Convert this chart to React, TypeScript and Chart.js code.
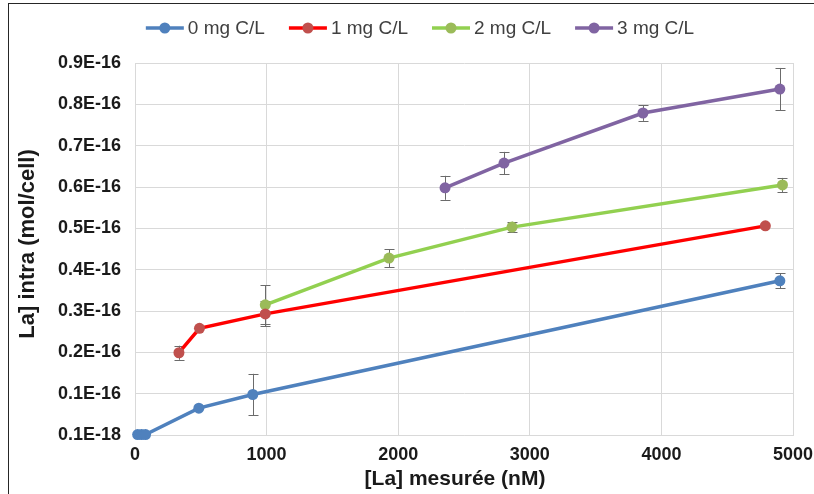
import React, { useEffect, useRef } from "react";
import { Chart, registerables } from "chart.js";

Chart.register(...registerables);

// ---- data (y values in units of 1E-16 mol/cell) ----
const seriesNames = ["0 mg C/L", "1 mg C/L", "2 mg C/L", "3 mg C/L"];

const x0 = [20, 50, 80, 485, 895, 4900];
const y0 = [0.001, 0.001, 0.001, 0.065, 0.098, 0.373];
const e0 = [0, 0, 0, 0, 0.05, 0.018];

const x1 = [334, 490, 990, 4790];
const y1 = [0.199, 0.258, 0.293, 0.506];
const e1 = [0.017, 0, 0.03, 0];

const x2 = [990, 1930, 2865, 4920];
const y2 = [0.315, 0.428, 0.503, 0.605];
const e2 = [0.047, 0.022, 0.013, 0.017];

const x3 = [2356, 2804, 3860, 4900];
const y3 = [0.598, 0.658, 0.779, 0.837];
const e3 = [0.029, 0.027, 0.019, 0.051];

const xTickValues = [0, 1000, 2000, 3000, 4000, 5000];
const xTickLabels = ["0", "1000", "2000", "3000", "4000", "5000"];
const yTickValues = [0, 0.1, 0.2, 0.3, 0.4, 0.5, 0.6, 0.7, 0.8, 0.9];
const yTickLabels = ["0.1E-18", "0.1E-16", "0.2E-16", "0.3E-16", "0.4E-16", "0.5E-16", "0.6E-16", "0.7E-16", "0.8E-16", "0.9E-16"];

const xTitle = "[La] mesurée (nM)";
const yTitle = "La] intra (mol/cell)";

const lineColors = ["#4F81BD", "#FF0000", "#92D050", "#8064A2"];
const markerColors = ["#4F81BD", "#C0504D", "#9BBB59", "#8064A2"];

const allX = [x0, x1, x2, x3];
const allY = [y0, y1, y2, y3];
const allE = [e0, e1, e2, e3];

const FONT = "'Liberation Sans', Arial, sans-serif";

const overlayPlugin = {
  id: "overlay",
  beforeDatasetsDraw(chart: any) {
    const ctx = chart.ctx;
    const xs = chart.scales.x;
    const ys = chart.scales.y;
    ctx.save();
    ctx.strokeStyle = "#6b6b6b";
    ctx.lineWidth = 1;
    allX.forEach((xa, si) => {
      xa.forEach((xv, i) => {
        const err = allE[si][i];
        if (!err) return;
        const px = Math.round(xs.getPixelForValue(xv)) + 0.5;
        const top = ys.getPixelForValue(allY[si][i] + err);
        const bot = ys.getPixelForValue(allY[si][i] - err);
        ctx.beginPath();
        ctx.moveTo(px, top);
        ctx.lineTo(px, bot);
        ctx.moveTo(px - 5, Math.round(top) + 0.5);
        ctx.lineTo(px + 5, Math.round(top) + 0.5);
        ctx.moveTo(px - 5, Math.round(bot) + 0.5);
        ctx.lineTo(px + 5, Math.round(bot) + 0.5);
        ctx.stroke();
      });
    });
    ctx.restore();
  },
  afterDraw(chart: any) {
    const ctx = chart.ctx;
    ctx.save();
    // legend
    ctx.font = `19px ${FONT}`;
    ctx.textBaseline = "middle";
    ctx.textAlign = "left";
    const lineLen = 38;
    const gapAfterLine = 4;
    const itemGap = 24;
    const widths = seriesNames.map((n) => ctx.measureText(n).width);
    const total = widths.reduce((a, w) => a + lineLen + gapAfterLine + w, 0) + itemGap * (seriesNames.length - 1);
    let cx = 420 - total / 2;
    const ly = 28;
    seriesNames.forEach((n, i) => {
      ctx.strokeStyle = lineColors[i];
      ctx.lineWidth = 3.5;
      ctx.beginPath();
      ctx.moveTo(cx, ly);
      ctx.lineTo(cx + lineLen, ly);
      ctx.stroke();
      ctx.fillStyle = markerColors[i];
      ctx.beginPath();
      ctx.arc(cx + lineLen / 2, ly, 5.5, 0, Math.PI * 2);
      ctx.fill();
      ctx.fillStyle = "#404040";
      ctx.fillText(n, cx + lineLen + gapAfterLine, ly + 1);
      cx += lineLen + gapAfterLine + widths[i] + itemGap;
    });
    // axis titles
    ctx.fillStyle = "#1a1a1a";
    ctx.font = `bold 21px ${FONT}`;
    ctx.textAlign = "center";
    ctx.fillText(xTitle, 455, 479);
    ctx.font = `bold 22px ${FONT}`;
    ctx.translate(28, 244);
    ctx.rotate(-Math.PI / 2);
    ctx.fillText(yTitle, 0, 0);
    ctx.restore();
  },
};

export default function App() {
  const canvasRef = useRef<HTMLCanvasElement | null>(null);

  useEffect(() => {
    const canvas = canvasRef.current;
    if (!canvas) return;
    const datasets = allX.map((xa, si) => ({
      label: seriesNames[si],
      data: xa.map((xv, i) => ({ x: xv, y: allY[si][i] })),
      showLine: true,
      clip: false,
      borderColor: lineColors[si],
      backgroundColor: markerColors[si],
      pointBackgroundColor: markerColors[si],
      pointBorderColor: markerColors[si],
      borderWidth: 3.5,
      pointRadius: 5.5,
      pointBorderWidth: 0,
      tension: 0,
    }));
    const chart = new Chart(canvas, {
      type: "scatter",
      data: { datasets },
      options: {
        animation: false,
        responsive: false,
        devicePixelRatio: 1,
        layout: { padding: { left: 0, top: 63, right: 21, bottom: 0 } },
        plugins: {
          legend: { display: false },
          tooltip: { enabled: false },
          title: { display: false },
        },
        scales: {
          x: {
            type: "linear",
            min: 0,
            max: 5000,
            afterFit: (s: any) => {
              s.height = 59;
              s.paddingLeft = 0;
              s.paddingRight = 0;
            },
            afterBuildTicks: (s: any) => {
              s.ticks = xTickValues.map((v) => ({ value: v }));
            },
            ticks: {
              padding: 9,
              color: "#1a1a1a",
              font: { family: FONT, size: 18, weight: "bold" },
              callback: (v: any) => {
                const idx = xTickValues.indexOf(Number(v));
                return idx >= 0 ? xTickLabels[idx] : "";
              },
            },
            grid: { color: "#d9d9d9", lineWidth: 1, drawTicks: false },
            border: { color: "#d9d9d9" },
          },
          y: {
            type: "linear",
            min: 0,
            max: 0.9,
            afterFit: (s: any) => {
              s.width = 135;
              s.paddingTop = 0;
              s.paddingBottom = 0;
            },
            afterBuildTicks: (s: any) => {
              s.ticks = yTickValues.map((v) => ({ value: v }));
            },
            ticks: {
              padding: 14,
              color: "#1a1a1a",
              font: { family: FONT, size: 18, weight: "bold" },
              callback: (v: any) => {
                const idx = yTickValues.findIndex((t) => Math.abs(t - Number(v)) < 1e-9);
                return idx >= 0 ? yTickLabels[idx] : "";
              },
            },
            grid: { color: "#d9d9d9", lineWidth: 1, drawTicks: false },
            border: { color: "#d9d9d9" },
          },
        },
      },
      plugins: [overlayPlugin],
    });
    return () => chart.destroy();
  }, []);

  return (
    <div style={{ position: "fixed", left: 0, top: 0, width: 814, height: 494, background: "#fff", overflow: "hidden" }}>
      <canvas ref={canvasRef} width={814} height={494} style={{ display: "block", width: 814, height: 494 }} />
      <div
        style={{
          position: "absolute",
          left: 8,
          top: 3,
          width: 860,
          height: 560,
          borderTop: "1px solid #262626",
          borderLeft: "1px solid #262626",
          pointerEvents: "none",
        }}
      />
    </div>
  );
}
